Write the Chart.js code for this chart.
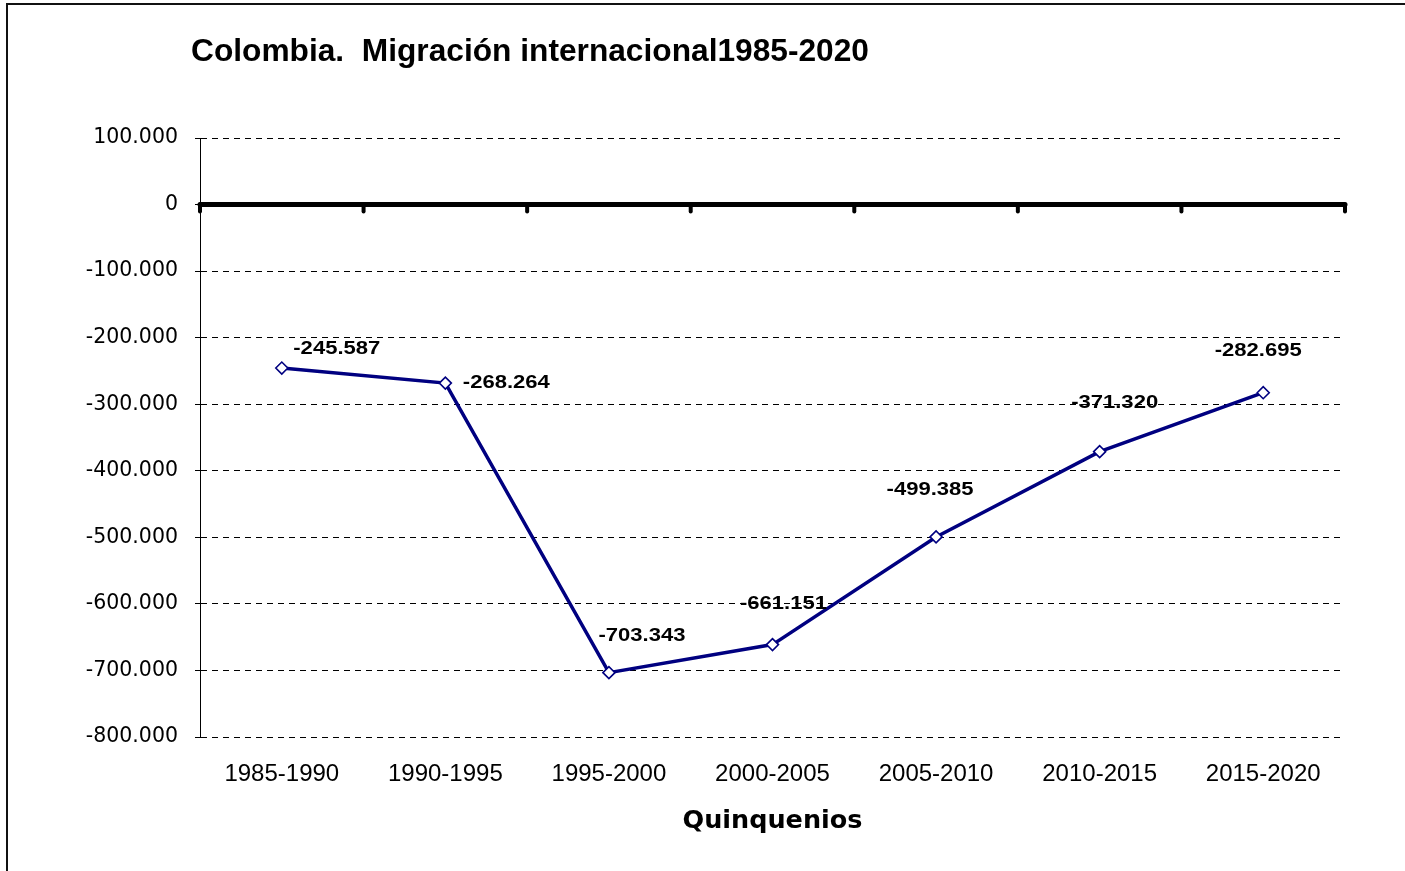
<!DOCTYPE html>
<html>
<head>
<meta charset="utf-8">
<script src="https://cdn.jsdelivr.net/npm/chart.js@4/dist/chart.umd.min.js"></script>
<style>
  html, body { margin: 0; padding: 0; background: #fff; }
  #wrap { width: 1405px; height: 871px; position: relative; }
</style>
</head>
<body>
<div id="wrap"><canvas id="migChart" width="1405" height="871"></canvas></div>
<script>
const periods = ['1985-1990', '1990-1995', '1995-2000', '2000-2005', '2005-2010', '2010-2015', '2015-2020'];
const netMigration = [-245587, -268264, -703343, -661151, -499385, -371320, -282695];
const yMin = -800000;
const yMax = 100000;
const yStep = 100000;
const titleText = 'Colombia.  Migración internacional1985-2020';
const xTitle = 'Quinquenios';

// miles con punto, como en el original
const fmt = n => String(n).replace(/\B(?=(\d{3})+(?!\d))/g, '.');

// where each label sits relative to its point (hand placed in the original)
const labelOffsets = [[55, -19], [61, 0], [33, -37], [11, -41], [-6, -47], [15, -49], [-5, -42]];

const extras = {
    id: 'extras',
    beforeDraw(chart) {
        const ctx = chart.ctx;
        ctx.save();
        ctx.fillStyle = '#fff';
        ctx.fillRect(0, 0, chart.width, chart.height);
        // frame
        ctx.strokeStyle = '#111';
        ctx.lineWidth = 2;
        ctx.beginPath();
        ctx.moveTo(7, chart.height + 5);
        ctx.lineTo(7, 4);
        ctx.lineTo(chart.width + 5, 4);
        ctx.stroke();
        // title
        ctx.fillStyle = '#000';
        ctx.font = 'bold 31.7px "Liberation Sans", Arial, sans-serif';
        ctx.textAlign = 'left';
        ctx.textBaseline = 'middle';
        ctx.fillText(titleText, 191, 52);
        ctx.restore();
    },
    beforeDatasetsDraw(chart) {
        // thick zero line with the category tick marks
        const {ctx, chartArea} = chart;
        const xs = chart.scales.x;
        const y0 = chart.scales.y.getPixelForValue(0);
        ctx.save();
        ctx.strokeStyle = '#000';
        ctx.lineCap = 'round';
        ctx.lineWidth = 5;
        ctx.beginPath();
        ctx.moveTo(chartArea.left, y0);
        ctx.lineTo(chartArea.right, y0);
        ctx.stroke();
        ctx.lineWidth = 4;
        for (let i = 0; i <= periods.length; i++) {
            let x;
            if (i === 0) x = chartArea.left;
            else if (i === periods.length) x = chartArea.right;
            else x = (xs.getPixelForValue(i - 1) + xs.getPixelForValue(i)) / 2;
            ctx.beginPath();
            ctx.moveTo(x, y0);
            ctx.lineTo(x, y0 + 7);
            ctx.stroke();
        }
        ctx.restore();
    },
    afterDatasetsDraw(chart) {
        const ctx = chart.ctx;
        const meta = chart.getDatasetMeta(0);
        ctx.save();
        ctx.fillStyle = '#000';
        ctx.font = 'bold 19px "Liberation Sans", Arial, sans-serif';
        ctx.textAlign = 'center';
        ctx.textBaseline = 'middle';
        meta.data.forEach((pt, i) => {
            const off = labelOffsets[i];
            // the original text is drawn a bit wider than plain Arial
            ctx.save();
            ctx.translate(pt.x + off[0], pt.y + off[1]);
            ctx.scale(1.16, 1);
            ctx.fillText(fmt(netMigration[i]), 0, 0);
            ctx.restore();
        });
        ctx.restore();
    }
};

new Chart(document.getElementById('migChart'), {
    type: 'line',
    data: {
        labels: periods,
        datasets: [{
            data: netMigration,
            borderColor: '#000080',
            borderWidth: 3.5,
            tension: 0,
            pointStyle: 'rectRot',
            pointRadius: 6,
            pointBorderWidth: 1.6,
            pointBackgroundColor: '#fff',
            pointBorderColor: '#000080'
        }]
    },
    options: {
        responsive: false,
        animation: false,
        layout: { padding: { left: 0, right: 60, top: 138, bottom: 0 } },
        plugins: {
            legend: { display: false },
            title: { display: false },
            tooltip: { enabled: false }
        },
        scales: {
            x: {
                type: 'category',
                offset: true,
                grid: { display: false, drawTicks: false },
                border: { display: false },
                ticks: {
                    padding: 23,
                    color: '#000',
                    font: { family: '"Liberation Sans", Arial, sans-serif', size: 24 },
                    maxRotation: 0
                },
                title: {
                    display: true,
                    text: xTitle,
                    color: '#000',
                    font: { family: '"DejaVu Sans", sans-serif', size: 25.5, weight: 'bold' },
                    padding: { top: 0, bottom: 34 }
                },
                afterFit(scale) { scale.height = 134; }
            },
            y: {
                min: yMin,
                max: yMax,
                grid: { color: '#000', lineWidth: 1, tickLength: 5 },
                border: { display: true, color: '#000', width: 1, dash: [6, 5] },
                ticks: {
                    stepSize: yStep,
                    padding: 17,
                    color: '#000',
                    font: { family: '"DejaVu Sans", sans-serif', size: 20.5 },
                    callback: v => fmt(v)
                },
                afterFit(scale) { scale.width = 200; }
            }
        }
    },
    plugins: [extras]
});
</script>
</body>
</html>
